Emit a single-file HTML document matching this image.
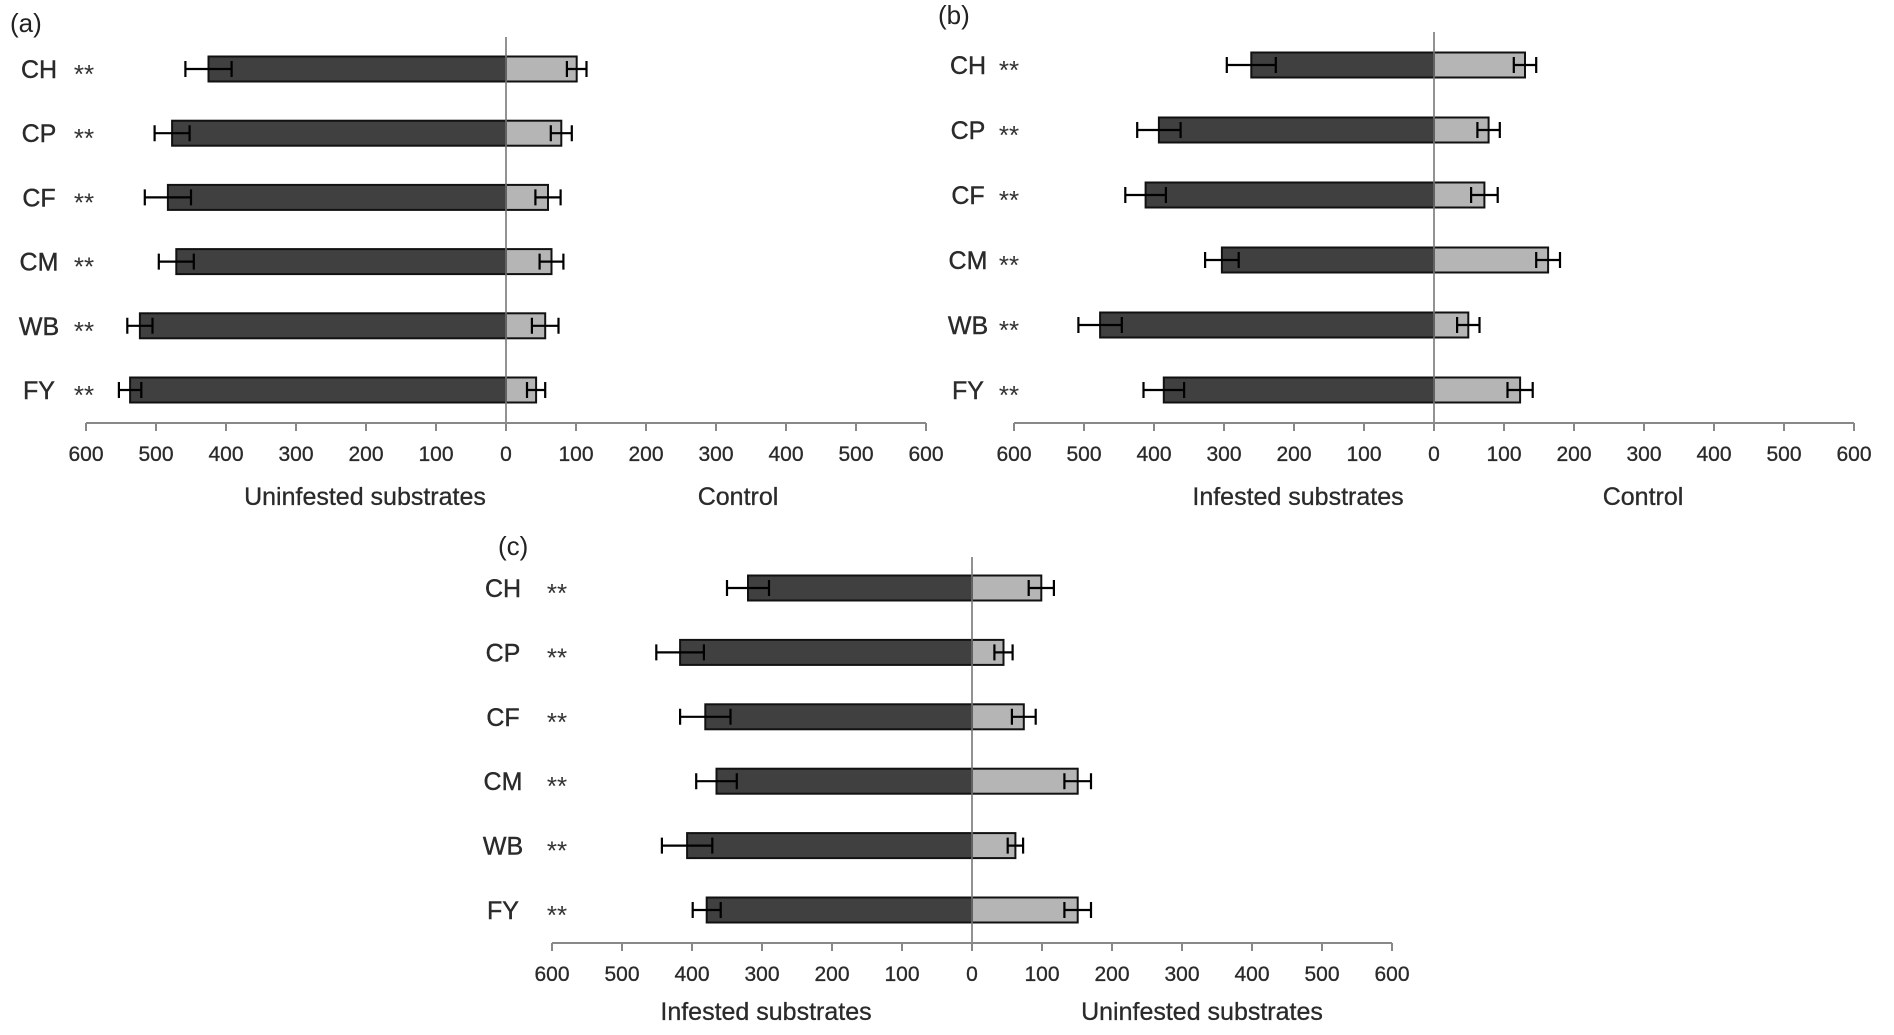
<!DOCTYPE html>
<html><head><meta charset="utf-8"><style>
html,body{margin:0;padding:0;background:#fff;}
svg{display:block;font-family:"Liberation Sans",sans-serif;}
</style></head><body>
<svg id="chart" width="1894" height="1035" viewBox="0 0 1894 1035" xmlns="http://www.w3.org/2000/svg"></svg>
<script>
const categories = ["CH","CP","CF","CM","WB","FY"];
const tickLabels = ["600","500","400","300","200","100","0","100","200","300","400","500","600"];
// Panel (a)
const aLeft = [425,477,483,471,523,537];
const aLeftErr = [33,25,33,25,18,16];
const aRight = [101,79,60,65,56,43];
const aRightErr = [14,15,18,17,19,13];
// Panel (b)
const bLeft = [261,393,412,303,477,386];
const bLeftErr = [35,31,29,24,31,29];
const bRight = [130,78,72,163,49,123];
const bRightErr = [16,16,19,17,16,18];
// Panel (c)
const cLeft = [320,417,381,365,407,379];
const cLeftErr = [30,34,36,29,36,20];
const cRight = [99,45,74,151,62,151];
const cRightErr = [18,13,17,19,11,19];

const NS="http://www.w3.org/2000/svg";
const svg=document.getElementById('chart');
function mk(tag,attrs,parent){const e=document.createElementNS(NS,tag);for(const k in attrs)e.setAttribute(k,attrs[k]);(parent||svg).appendChild(e);return e;}

function panel(p){
  const g=mk('g',{});
  
  
  const sx=v=>p.zero+v*0.7;
  const barH=25;
  const lbl=mk('text',{x:p.labelX,y:p.labelY,'font-size':26,fill:'#222'},g);
  lbl.textContent='('+p.id+')';
  
  
  categories.forEach((c,i)=>{
    const cy=p.rowY[0]+i*p.rowStep;
    const L=p.left[i],R=p.right[i];
    const lb=mk('rect',{x:sx(-L),y:cy-barH/2,width:L*0.7,height:barH,fill:'#404040',stroke:'#111','stroke-width':2},g);
    
    
    const rb=mk('rect',{x:sx(0),y:cy-barH/2,width:R*0.7,height:barH,fill:'#b5b5b5',stroke:'#111','stroke-width':2},g);
    
    
    [[-L,p.leftErr[i]],[R,p.rightErr[i]]].forEach(([v,e],k)=>{
      const a=sx(v-e),b=sx(v+e);
      const eb=mk('path',{d:`M${a},${cy}H${b}M${a},${cy-8}V${cy+8}M${b},${cy-8}V${cy+8}`,stroke:'#000','stroke-width':2.2,fill:'none'},g);
      
      
    });
    const t=mk('text',{x:p.catX,y:cy+9,'font-size':25,fill:'#2a2a2a','text-anchor':'middle',stroke:'#2a2a2a','stroke-width':0.4},g);
    t.textContent=c;
    
    
    const s=mk('text',{x:p.starX,y:cy+14,'font-size':26,fill:'#333','text-anchor':'middle'},g);
    s.textContent='**';
    
    
  });
  const zl=mk('line',{x1:p.zero,x2:p.zero,y1:p.zeroTop,y2:p.axisY,stroke:'#777','stroke-width':1.6},g);
  
  
  const ax=mk('line',{x1:sx(-600),x2:sx(600),y1:p.axisY,y2:p.axisY,stroke:'#888','stroke-width':2},g);
  
  
  tickLabels.forEach((tl,j)=>{
    const x=sx(-600+j*100);
    const tk=mk('line',{x1:x,x2:x,y1:p.axisY,y2:p.axisY+8,stroke:'#888','stroke-width':2},g);
    
    
    const tt=mk('text',{x:x,y:p.axisY+38,'font-size':21,fill:'#2a2a2a','text-anchor':'middle',stroke:'#2a2a2a','stroke-width':0.3},g);
    tt.textContent=tl;
    
    
  });
  const t1=mk('text',{x:p.t1X,y:p.titleY,'font-size':25,fill:'#2a2a2a','text-anchor':'middle',stroke:'#2a2a2a','stroke-width':0.3},g);
  t1.textContent=p.t1;
  
  
  const t2=mk('text',{x:p.t2X,y:p.titleY,'font-size':25,fill:'#2a2a2a','text-anchor':'middle',stroke:'#2a2a2a','stroke-width':0.3},g);
  t2.textContent=p.t2;
  
  
}

panel({id:'a',zero:506,rowY:[69],rowStep:64.2,left:aLeft,leftErr:aLeftErr,right:aRight,rightErr:aRightErr,
  axisY:423,zeroTop:37,catX:39,starX:84,labelX:10,labelY:32,t1:'Uninfested substrates',t2:'Control',t1X:365,t2X:738,titleY:505});
panel({id:'b',zero:1434,rowY:[65],rowStep:65,left:bLeft,leftErr:bLeftErr,right:bRight,rightErr:bRightErr,
  axisY:423,zeroTop:32,catX:968,starX:1009,labelX:938,labelY:24,t1:'Infested substrates',t2:'Control',t1X:1298,t2X:1643,titleY:505});
panel({id:'c',zero:972,rowY:[588],rowStep:64.4,left:cLeft,leftErr:cLeftErr,right:cRight,rightErr:cRightErr,
  axisY:943,zeroTop:557,catX:503,starX:557,labelX:498,labelY:555,t1:'Infested substrates',t2:'Uninfested substrates',t1X:766,t2X:1202,titleY:1020});
</script>
</body></html>
